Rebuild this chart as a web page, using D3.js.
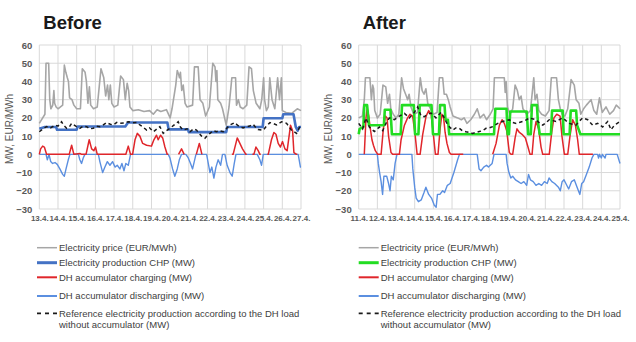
<!DOCTYPE html>
<html>
<head>
<meta charset="utf-8">
<script src="https://cdn.jsdelivr.net/npm/d3@7"></script>
<style>
  html, body { margin: 0; padding: 0; background: #fff; }
  svg { display: block; font-family: "Liberation Sans", Arial, sans-serif; }
</style>
</head>
<body>
<svg id="chart" width="636" height="342"></svg>
<script>
// ---- tick labels ----
const dayLabelsBefore = ["13.4.","14.4.","15.4.","16.4.","17.4.","18.4.","19.4.","20.4.","21.4.","22.4.","23.4.","24.4.","25.4.","26.4.","27.4."];
const dayLabelsAfter  = ["11.4.","12.4.","13.4.","14.4.","15.4.","16.4.","17.4.","18.4.","19.4.","20.4.","21.4.","22.4.","23.4.","24.4.","25.4."];
const yTickValues = [-30, -20, -10, 0, 10, 20, 30, 40, 50, 60];

const legendLabels = [
  "Electricity price (EUR/MWh)",
  "Electricity production CHP (MW)",
  "DH accumulator charging (MW)",
  "DH accumulator discharging (MW)",
  "Reference electricity production according to the DH load",
  "without accumulator (MW)"
];

// ---- series: [day offset, value] ----
// Before
const priceBefore = [[0,17],[0.3,22],[0.36,50],[0.5,50],[0.56,30],[0.62,25],[0.72,27],[0.78,35],[0.82,28],[0.9,26],[1.0,25],[1.25,27],[1.34,49],[1.42,45],[1.5,42],[1.56,40],[1.62,31],[1.75,30],[1.85,27],[2.0,25],[2.2,25],[2.3,47],[2.45,45],[2.52,40],[2.6,28],[2.68,37],[2.75,27],[2.9,25],[3.1,26],[3.3,47],[3.45,42],[3.55,32],[3.65,38],[3.72,30],[3.8,38],[3.88,28],[4.0,26],[4.2,27],[4.35,43],[4.5,41],[4.6,30],[4.7,39],[4.78,35],[4.85,26],[5.0,24],[5.3,24.5],[5.6,23.5],[5.9,24],[6.1,22],[6.3,24.5],[6.5,23.5],[6.8,24.5],[7.0,20],[7.1,25],[7.3,38],[7.38,46],[7.45,44],[7.5,42],[7.55,45],[7.62,35],[7.7,38],[7.8,28],[7.9,26],[8.2,27],[8.3,48],[8.5,48],[8.6,30],[8.75,28],[8.9,21],[9.1,26],[9.28,50],[9.4,48],[9.45,40],[9.5,46],[9.55,30],[9.7,28],[9.8,25],[10.0,16],[10.15,26],[10.3,42],[10.5,42],[10.55,27],[10.65,30],[10.75,26],[10.9,25],[11.1,27],[11.22,48],[11.35,47],[11.45,35],[11.6,28],[11.8,25],[11.9,30],[12.0,42],[12.05,30],[12.15,24],[12.25,26],[12.33,42],[12.45,30],[12.6,25],[12.75,42],[12.85,30],[12.95,42],[13.0,24],[13.2,23],[13.5,22.5],[13.8,25],[14.0,24]];
const chpBefore = [[0,14],[0.3,15],[0.9,15],[0.95,13.5],[2.0,13.5],[2.05,15.3],[4.6,15.3],[4.75,17.5],[6.85,17.5],[6.92,13.7],[7.95,13.7],[8.0,12.2],[10.0,12.2],[10.05,15],[11.95,15],[12.0,19.8],[13.0,19.8],[13.05,22],[13.6,22],[13.72,15],[13.82,13],[13.9,15],[14,15]];
const chargeBefore = [[0,0],[0.07,3],[0.18,4.5],[0.27,4],[0.39,0],[1.6,0],[1.73,5],[1.85,0],[2.17,0.5],[2.26,0],[2.5,0],[2.67,8],[2.8,3],[2.92,2],[3.01,4],[3.1,0],[4.63,0],[4.76,4.5],[4.88,0],[4.99,0],[5.12,8],[5.24,11.5],[5.38,10],[5.53,6],[5.74,5],[6.0,4.5],[6.13,8],[6.27,10.5],[6.36,8],[6.49,10.5],[6.6,9],[6.72,4],[6.84,0],[6.9,0],[6.9,null],
  [7.45,0],[7.61,3],[7.75,0],[7.75,null],
  [8.4,0],[8.56,6],[8.7,0],[8.7,null],
  [10.3,0],[10.37,0],[10.59,9],[10.73,6],[10.87,3],[11.05,0],[11.1,0],[11.1,null],
  [11.4,0],[11.48,0],[11.59,4],[11.71,2],[11.8,0],[11.85,0],[11.85,null],
  [12.2,0],[12.25,0],[12.42,8],[12.55,12],[12.66,11],[12.78,6],[12.9,4],[13.01,7],[13.14,3],[13.26,2],[13.44,16],[13.55,13],[13.62,1],[13.76,0],[13.8,0]];
const dischargeBefore = [[0,0],[0.36,0],[0.43,-3],[0.52,0],[0.61,-4],[0.71,-5],[0.84,-4.5],[0.96,-5.5],[1.1,-8],[1.25,-11],[1.34,-12],[1.43,-8],[1.55,-3],[1.64,0],[2.09,0],[2.17,-3],[2.26,-5],[2.35,-2],[2.44,0],[3.16,0],[3.24,-4],[3.39,-10],[3.51,-7],[3.64,-4],[3.78,-6],[3.92,-4],[4.05,-7],[4.17,-6],[4.31,-8],[4.42,-5],[4.53,-9],[4.63,-5],[4.76,-6],[4.88,0],[6.9,0],[6.99,-2],[7.13,-8],[7.25,-12],[7.38,-8],[7.49,-3],[7.61,0],[7.84,0],[7.97,-2],[8.09,-5],[8.2,-8],[8.29,-4],[8.38,0],[8.95,0],[9.04,-5],[9.13,-10],[9.23,-7],[9.34,-13],[9.45,-7],[9.57,-3],[9.7,-6],[9.8,0],[9.93,0],[10.05,-6],[10.2,-10],[10.32,-12],[10.43,-5],[10.52,0],[11.66,0],[11.8,-3],[11.89,-6],[11.98,0],[13.85,0],[13.97,-7],[14,-7]];
const refBefore = [[0,12.4],[0.2,14],[0.39,15.2],[0.6,14.5],[0.84,16.1],[1.0,15.5],[1.19,17.9],[1.3,16],[1.46,14.3],[1.6,15],[1.73,17.0],[1.95,15.5],[2.17,14.3],[2.35,15.5],[2.53,15.2],[2.7,14],[2.89,14.3],[3.05,15.5],[3.24,15.2],[3.4,16],[3.6,17.4],[3.8,16.5],[3.96,16.1],[4.15,17.5],[4.31,17.0],[4.55,17.2],[4.76,17.9],[5.03,17.4],[5.2,17.5],[5.38,16.1],[5.55,15],[5.74,13.3],[5.9,14.5],[6.1,12.4],[6.3,14],[6.45,15.2],[6.63,11.5],[6.8,13],[6.99,14.3],[7.2,16],[7.43,17.9],[7.55,15],[7.7,13.3],[7.9,14],[8.06,12.4],[8.25,14],[8.41,13.3],[8.55,11.5],[8.68,10],[8.86,8.8],[9.0,10.5],[9.13,11.5],[9.3,13],[9.48,12.4],[9.65,13],[9.84,12.4],[10.0,14],[10.2,16.1],[10.46,17.4],[10.6,16],[10.73,15.2],[10.9,14.5],[11.09,15.2],[11.25,15.5],[11.44,16.5],[11.6,14.5],[11.71,13.6],[11.98,13.3],[12.15,15.5],[12.34,17.4],[12.5,17],[12.69,16.1],[12.96,17.9],[13.1,17.5],[13.23,17.0],[13.49,13.3],[13.76,11.5],[13.94,15.2],[14,15]];

// After
const priceAfter = [[0,20],[0.2,21],[0.3,30],[0.36,42],[0.6,42],[0.68,30],[0.75,38],[0.8,36],[0.86,24],[1.0,20],[1.15,22],[1.3,38],[1.45,37],[1.55,28],[1.65,33],[1.72,25],[1.85,22],[2.0,20],[2.15,22],[2.3,42],[2.4,36],[2.55,32],[2.62,30],[2.7,33],[2.8,26],[2.95,22],[3.15,23],[3.3,42],[3.4,35],[3.5,33],[3.6,36],[3.7,28],[3.85,25],[4.0,22],[4.2,23],[4.32,42],[4.5,42],[4.58,33],[4.7,33],[4.8,30],[4.9,26],[5.05,21],[5.3,20],[5.5,19],[5.65,20],[5.8,17],[6.0,19],[6.2,22],[6.35,25],[6.5,20],[6.7,22],[6.85,19],[7.05,22],[7.2,25],[7.27,42],[7.8,42],[7.85,34],[7.9,40],[7.97,26],[8.1,22],[8.25,25],[8.38,38],[8.5,35],[8.6,30],[8.7,32],[8.8,25],[9.0,22],[9.2,24],[9.38,42],[9.45,30],[9.55,33],[9.65,24],[9.8,22],[10.0,21],[10.2,24],[10.32,42],[10.6,42],[10.7,30],[10.8,25],[10.9,22],[11.05,21],[11.2,25],[11.38,41],[11.55,38],[11.65,30],[11.8,28],[11.9,22],[12.05,25],[12.2,27],[12.45,30],[12.6,24],[12.75,22],[12.9,31],[13.05,23],[13.25,26],[13.45,22],[13.65,24],[13.8,27],[14.0,25]];
const chpAfter = [[0,11],[0.05,14],[0.25,15],[0.3,27],[0.45,27],[0.55,16],[1.35,16],[1.4,24.5],[1.7,24.5],[1.78,11],[2.25,11],[2.32,27],[2.95,27],[3.02,11],[3.2,11],[3.27,27],[3.9,27],[3.98,11],[4.3,11],[4.36,27],[4.6,27],[4.65,19],[4.78,19],[4.85,11],[7.25,11],[7.32,25],[7.92,25],[7.98,11],[8.05,11],[8.12,23.5],[9.0,23.5],[9.08,11],[9.22,11],[9.28,27],[9.55,27],[9.6,18],[9.7,11],[10.3,11],[10.36,24],[10.93,24],[10.98,11],[11.3,11],[11.36,24],[11.65,24],[11.7,16],[11.88,11],[14,11]];
const chargeAfter = [[0.3,0],[0.39,20],[0.45,25],[0.54,21],[0.61,15],[0.71,8],[0.79,5],[0.89,2],[1.02,0],[1.2,0],[1.32,14],[1.43,21],[1.52,20],[1.6,10],[1.73,1],[1.82,0],[2.18,0],[2.27,8],[2.45,16],[2.62,20],[2.75,22],[2.89,21],[3.02,11],[3.13,0],[3.29,0],[3.43,11],[3.61,21],[3.75,24],[3.88,22],[4.0,11],[4.11,0],[4.25,0],[4.36,14],[4.46,22],[4.55,20],[4.63,12],[4.73,6],[4.86,1],[4.95,0],[5.6,0],[5.6,null],
  [7.18,0],[7.36,6],[7.54,16],[7.68,19],[7.8,17],[7.93,13],[8.07,1],[8.16,0],[8.25,0],[8.38,9],[8.48,14],[8.61,12],[8.75,11],[8.93,9],[9.07,4],[9.18,0],[9.29,0],[9.38,11],[9.5,18],[9.64,14],[9.77,4],[9.86,0],[10.21,0],[10.34,12],[10.46,20],[10.61,22],[10.79,21],[10.89,10],[11.02,0],[11.2,0],[11.32,10],[11.46,19],[11.61,16],[11.73,8],[11.82,0],[12.55,0]];
const dischargeAfter = [[0,0],[1.0,0],[1.05,-5],[1.12,-10],[1.2,-15],[1.28,-22],[1.35,-12],[1.5,-12],[1.6,-16],[1.68,-20],[1.75,-12],[1.85,-14],[1.95,-5],[2.05,0],[2.85,0],[2.9,-8],[3.0,-18],[3.08,-24],[3.2,-26],[3.35,-25],[3.5,-21],[3.6,-18],[3.75,-22],[3.9,-24],[4.05,-28],[4.15,-29],[4.22,-22],[4.35,-22],[4.5,-20],[4.6,-21],[4.75,-17],[4.9,-16],[5.1,-10],[5.3,-3],[5.4,0],[6.35,0],[6.45,-8],[6.55,-9],[6.7,-7],[6.85,-6],[6.95,-7],[7.15,-5],[7.25,0],[7.9,0],[7.95,-5],[8.05,-10],[8.15,-13],[8.25,-12],[8.4,-14],[8.55,-15],[8.7,-16],[8.85,-15],[9.0,-17],[9.1,-11],[9.2,-14],[9.35,-15],[9.5,-17],[9.65,-16],[9.8,-17],[9.95,-15],[10.1,-16],[10.2,-13],[10.35,-15],[10.5,-16],[10.7,-18],[10.8,-20],[10.9,-15],[11.0,-14],[11.1,-16],[11.25,-19],[11.4,-15],[11.55,-14],[11.7,-18],[11.85,-22],[11.95,-16],[12.05,-15],[12.2,-11],[12.35,-7],[12.5,-2],[12.6,0],[12.8,0],[12.85,-2],[12.9,0],[13.0,-2],[13.05,0],[13.2,-2],[13.25,0],[13.85,0],[14,-5]];
const refAfter = [[0,17],[0.21,14],[0.39,20],[0.57,15],[0.84,12.5],[1.11,15],[1.29,13],[1.46,17],[1.64,20],[1.91,19],[2.18,21],[2.45,22.5],[2.71,20],[2.98,23],[3.16,26],[3.34,21],[3.52,20.7],[3.7,22],[3.88,22.6],[4.14,20],[4.41,23],[4.59,20],[4.77,16],[5.04,13.3],[5.2,14.5],[5.39,14.3],[5.55,13],[5.75,12.4],[5.95,12],[6.1,11.5],[6.3,12],[6.46,12.5],[6.65,13],[6.82,14.3],[7.0,14.5],[7.18,15.2],[7.45,17],[7.71,18],[7.9,18.5],[8.07,19],[8.25,17.5],[8.43,17],[8.6,17.5],[8.79,18],[9.0,19],[9.14,20],[9.3,19.5],[9.5,19],[9.7,17],[9.86,16],[10.05,17.5],[10.21,19],[10.4,18.5],[10.57,18],[10.75,19],[10.93,20],[11.1,18.5],[11.29,17],[11.45,16.5],[11.64,16],[11.8,18],[12.0,20],[12.27,19],[12.4,17.5],[12.54,16],[12.8,17],[13.07,15],[13.2,16.5],[13.34,18],[13.52,13.5],[13.7,16],[13.85,17],[14,18]];

// ---- layout ----
const svg = d3.select("#chart");
const yRange = [209, 45];
const y = d3.scaleLinear().domain([-30, 60]).range(yRange);

const panels = [
  { title: "Before", left: 39.3, right: 301, labels: dayLabelsBefore, chpColor: "#4472c4",
    price: priceBefore, chp: chpBefore, charge: chargeBefore, discharge: dischargeBefore, ref: refBefore,
    yTitleX: 10, legendX: 37 },
  { title: "After", left: 358.7, right: 620, labels: dayLabelsAfter, chpColor: "#22dd22",
    price: priceAfter, chp: chpAfter, charge: chargeAfter, discharge: dischargeAfter, ref: refAfter,
    yTitleX: 329, legendX: 358.7 }
];

const colors = { price: "#a6a6a6", charge: "#e0262b", discharge: "#5b8fe0", ref: "#1a1a1a", grid: "#d9d9d9", text: "#595959" };

panels.forEach(p => {
  const g = svg.append("g");
  const x = d3.scaleLinear().domain([0, 14]).range([p.left, p.right]);

  // grid
  g.append("g").selectAll("line").data(yTickValues).join("line")
    .attr("x1", p.left).attr("x2", p.right)
    .attr("y1", d => y(d)).attr("y2", d => y(d))
    .attr("stroke", colors.grid).attr("stroke-width", 1);
  g.append("g").selectAll("line").data(d3.range(15)).join("line")
    .attr("x1", d => x(d)).attr("x2", d => x(d))
    .attr("y1", yRange[0]).attr("y2", yRange[1])
    .attr("stroke", colors.grid).attr("stroke-width", 1);

  // axes (labels only)
  const yAxis = g.append("g").attr("transform", `translate(${p.left},0)`)
    .call(d3.axisLeft(y).tickValues(yTickValues).tickSize(0).tickPadding(7));
  yAxis.select(".domain").remove();
  yAxis.selectAll("text").attr("fill", colors.text).style("font-size", "9.5px").style("font-weight", "bold")
    .style("font-family", "'Liberation Sans', Arial, sans-serif");

  const xAxis = g.append("g").attr("transform", `translate(0,${yRange[0]})`)
    .call(d3.axisBottom(x).tickValues(d3.range(15)).tickFormat(i => p.labels[i]).tickSize(0).tickPadding(6));
  xAxis.select(".domain").remove();
  xAxis.selectAll("text").attr("fill", colors.text).style("font-size", "8px").style("font-weight", "bold")
    .style("font-family", "'Liberation Sans', Arial, sans-serif");

  // y title
  g.append("text")
    .attr("transform", `translate(${p.yTitleX + 3},129) rotate(-90)`)
    .attr("text-anchor", "middle")
    .attr("fill", colors.text)
    .style("font-size", "10px")
    .text("MW, EUR/MWh");

  // title
  g.append("text").attr("x", p.left + 4).attr("y", 29)
    .style("font-size", "18.5px").style("font-weight", "bold").attr("fill", "#1a1a1a")
    .text(p.title);

  const line = d3.line().defined(d => d[1] !== null).x(d => x(d[0])).y(d => y(d[1]));

  g.append("path").datum(p.price).attr("d", line).attr("fill", "none")
    .attr("stroke", colors.price).attr("stroke-width", 1.6).attr("stroke-linejoin", "round");
  g.append("path").datum(p.discharge).attr("d", line).attr("fill", "none")
    .attr("stroke", colors.discharge).attr("stroke-width", 1.4).attr("stroke-linejoin", "round");
  g.append("path").datum(p.charge).attr("d", line).attr("fill", "none")
    .attr("stroke", colors.charge).attr("stroke-width", 1.5).attr("stroke-linejoin", "round");
  g.append("path").datum(p.chp).attr("d", line).attr("fill", "none")
    .attr("stroke", p.chpColor).attr("stroke-width", 2.6).attr("stroke-linejoin", "round");
  g.append("path").datum(p.ref).attr("d", line).attr("fill", "none")
    .attr("stroke", colors.ref).attr("stroke-width", 1.5).attr("stroke-dasharray", "3.5,3");

  // legend
  const rows = [247.7, 262.7, 277.3, 296, 313.3];
  const styles = [
    { c: colors.price, w: 1.5, dash: null },
    { c: p.chpColor, w: 3, dash: null },
    { c: colors.charge, w: 2, dash: null },
    { c: colors.discharge, w: 2, dash: null },
    { c: colors.ref, w: 1.8, dash: "4,4" }
  ];
  const lg = g.append("g");
  rows.forEach((ry, i) => {
    lg.append("line").attr("x1", p.legendX).attr("x2", p.legendX + 20)
      .attr("y1", ry).attr("y2", ry)
      .attr("stroke", styles[i].c).attr("stroke-width", styles[i].w)
      .attr("stroke-dasharray", styles[i].dash);
    lg.append("text").attr("x", p.legendX + 22).attr("y", ry).attr("dy", "0.35em")
      .style("font-size", "9.5px").attr("fill", "#404040").text(legendLabels[i]);
  });
  lg.append("text").attr("x", p.legendX + 22).attr("y", 325).attr("dy", "0.35em")
    .style("font-size", "9.5px").attr("fill", "#404040").text(legendLabels[5]);
});
</script>
</body>
</html>
